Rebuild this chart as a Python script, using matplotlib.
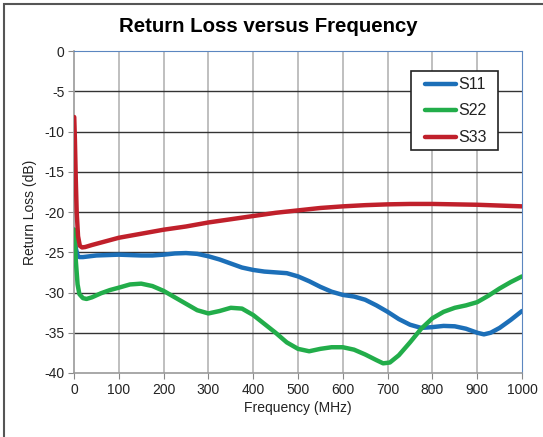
import matplotlib
matplotlib.use("Agg")
import matplotlib.pyplot as plt
from matplotlib.patches import Rectangle

plt.rcParams['font.family'] = ['Liberation Sans', 'DejaVu Sans']

title = "Return Loss versus Frequency"
xlabel = "Frequency (MHz)"
ylabel = "Return Loss (dB)"
xticks = [0, 100, 200, 300, 400, 500, 600, 700, 800, 900, 1000]
yticks = [0, -5, -10, -15, -20, -25, -30, -35, -40]
series_names = ["S11", "S22", "S33"]

s11_f = [1, 4, 8, 12, 20, 35, 50, 75, 100, 125, 150, 175, 200, 225, 250, 275, 300, 325, 350, 375,
         400, 425, 450, 475, 500, 525, 550, 575, 600, 625, 650, 675, 700, 725, 750, 775, 800, 825,
         850, 875, 900, 915, 930, 950, 975, 1000]
s11_v = [-22.2, -24.5, -25.4, -25.6, -25.6, -25.5, -25.4, -25.35, -25.3, -25.35, -25.4, -25.4, -25.3,
         -25.15, -25.1, -25.2, -25.5, -25.9, -26.4, -26.9, -27.2, -27.4, -27.5, -27.6, -28.0, -28.6,
         -29.3, -29.9, -30.3, -30.5, -30.9, -31.6, -32.4, -33.3, -34.0, -34.4, -34.3, -34.15, -34.2,
         -34.5, -35.0, -35.2, -35.0, -34.4, -33.4, -32.3]

s22_f = [1, 4, 8, 12, 20, 28, 40, 60, 80, 100, 125, 150, 175, 200, 225, 250, 275, 300, 325, 350,
         375, 400, 425, 450, 475, 500, 525, 550, 575, 600, 625, 650, 675, 690, 705, 725, 750, 775,
         800, 825, 850, 875, 900, 925, 950, 975, 1000]
s22_v = [-22.2, -26.0, -29.0, -30.2, -30.7, -30.8, -30.6, -30.1, -29.7, -29.4, -29.0, -28.9, -29.2,
         -29.8, -30.6, -31.4, -32.2, -32.6, -32.3, -31.9, -32.0, -32.8, -33.9, -35.0, -36.2, -37.0,
         -37.3, -37.0, -36.8, -36.8, -37.1, -37.7, -38.4, -38.8, -38.7, -37.8, -36.2, -34.5, -33.2,
         -32.4, -31.9, -31.6, -31.2, -30.4, -29.5, -28.7, -28.0]

s33_f = [0.5, 2, 4, 6, 9, 13, 18, 25, 40, 60, 80, 100, 150, 200, 250, 300, 350, 400, 450, 500,
         550, 600, 650, 700, 750, 800, 850, 900, 950, 1000]
s33_v = [-8.2, -11.0, -16.0, -20.0, -23.0, -24.2, -24.4, -24.35, -24.1, -23.8, -23.5, -23.2, -22.7,
         -22.2, -21.8, -21.3, -20.9, -20.5, -20.1, -19.8, -19.5, -19.3, -19.15, -19.05, -19.0, -19.0,
         -19.05, -19.1, -19.2, -19.3]

colors = ["#1c6fb8", "#22ad4a", "#c0202b"]

fig = plt.figure(figsize=(5.43, 4.37), dpi=100)
fig.patches.append(Rectangle((4/543, -0.5), 2.0, 1.5 - 3.5/437, transform=fig.transFigure,
                             fill=False, edgecolor="#555555", linewidth=1.5, zorder=0))
ax = fig.add_axes([74/543, 1 - 373/437, 448/543, 322/437])

for name, f, v, c in zip(series_names, [s11_f, s22_f, s33_f], [s11_v, s22_v, s33_v], colors):
    ax.plot(f, v, color=c, linewidth=3.2, label=name, solid_capstyle="round",
            solid_joinstyle="round", zorder=3)

ax.set_xlim(0, 1000)
ax.set_ylim(-40, 0)
ax.set_xticks(xticks)
ax.set_yticks(yticks)
ax.set_xticklabels([str(t) for t in xticks], fontsize=10, color="#222222")
ax.set_yticklabels([str(t) for t in yticks], fontsize=10, color="#222222")
ax.tick_params(axis="x", length=4, color="#888888", pad=3)
ax.tick_params(axis="y", length=4, color="#888888", pad=3)

for x in xticks[1:-1]:
    ax.axvline(x, color="#b4b4b4", linewidth=1.2, zorder=1)
for y in yticks[1:-1]:
    ax.axhline(y, color="#333333", linewidth=1.0, zorder=1)

ax.spines["left"].set_color("#999999")
ax.spines["bottom"].set_color("#999999")
ax.spines["left"].set_linewidth(1.2)
ax.spines["bottom"].set_linewidth(1.2)
ax.spines["top"].set_color("#5b86c0")
ax.spines["right"].set_color("#5b86c0")

ax.set_xlabel(xlabel, fontsize=10, color="#222222", labelpad=3)
ax.set_ylabel(ylabel, fontsize=10, color="#222222", labelpad=5)
fig.text(268/543, 1 - 27/437, title, ha="center", va="center", fontsize=14.7, fontweight="bold")

# legend drawn in axes-fraction coordinates
def ax_x(px):
    return (px - 74) / 448

def ax_y(py):
    return (373 - py) / 322

ax.add_patch(Rectangle((ax_x(411), ax_y(150)), ax_x(498) - ax_x(411), ax_y(71) - ax_y(150),
                       transform=ax.transAxes, facecolor="white", edgecolor="#222222",
                       linewidth=1.2, zorder=5))
for name, c, py in zip(series_names, colors, [84, 110, 137]):
    ax.plot([ax_x(425), ax_x(456)], [ax_y(py), ax_y(py)], transform=ax.transAxes, color=c,
            linewidth=3.2, solid_capstyle="round", zorder=6)
    ax.text(ax_x(458), ax_y(py), name, transform=ax.transAxes, fontsize=11.5, color="#222222",
            ha="left", va="center", zorder=6)

fig.savefig("out.png", dpi=100)
